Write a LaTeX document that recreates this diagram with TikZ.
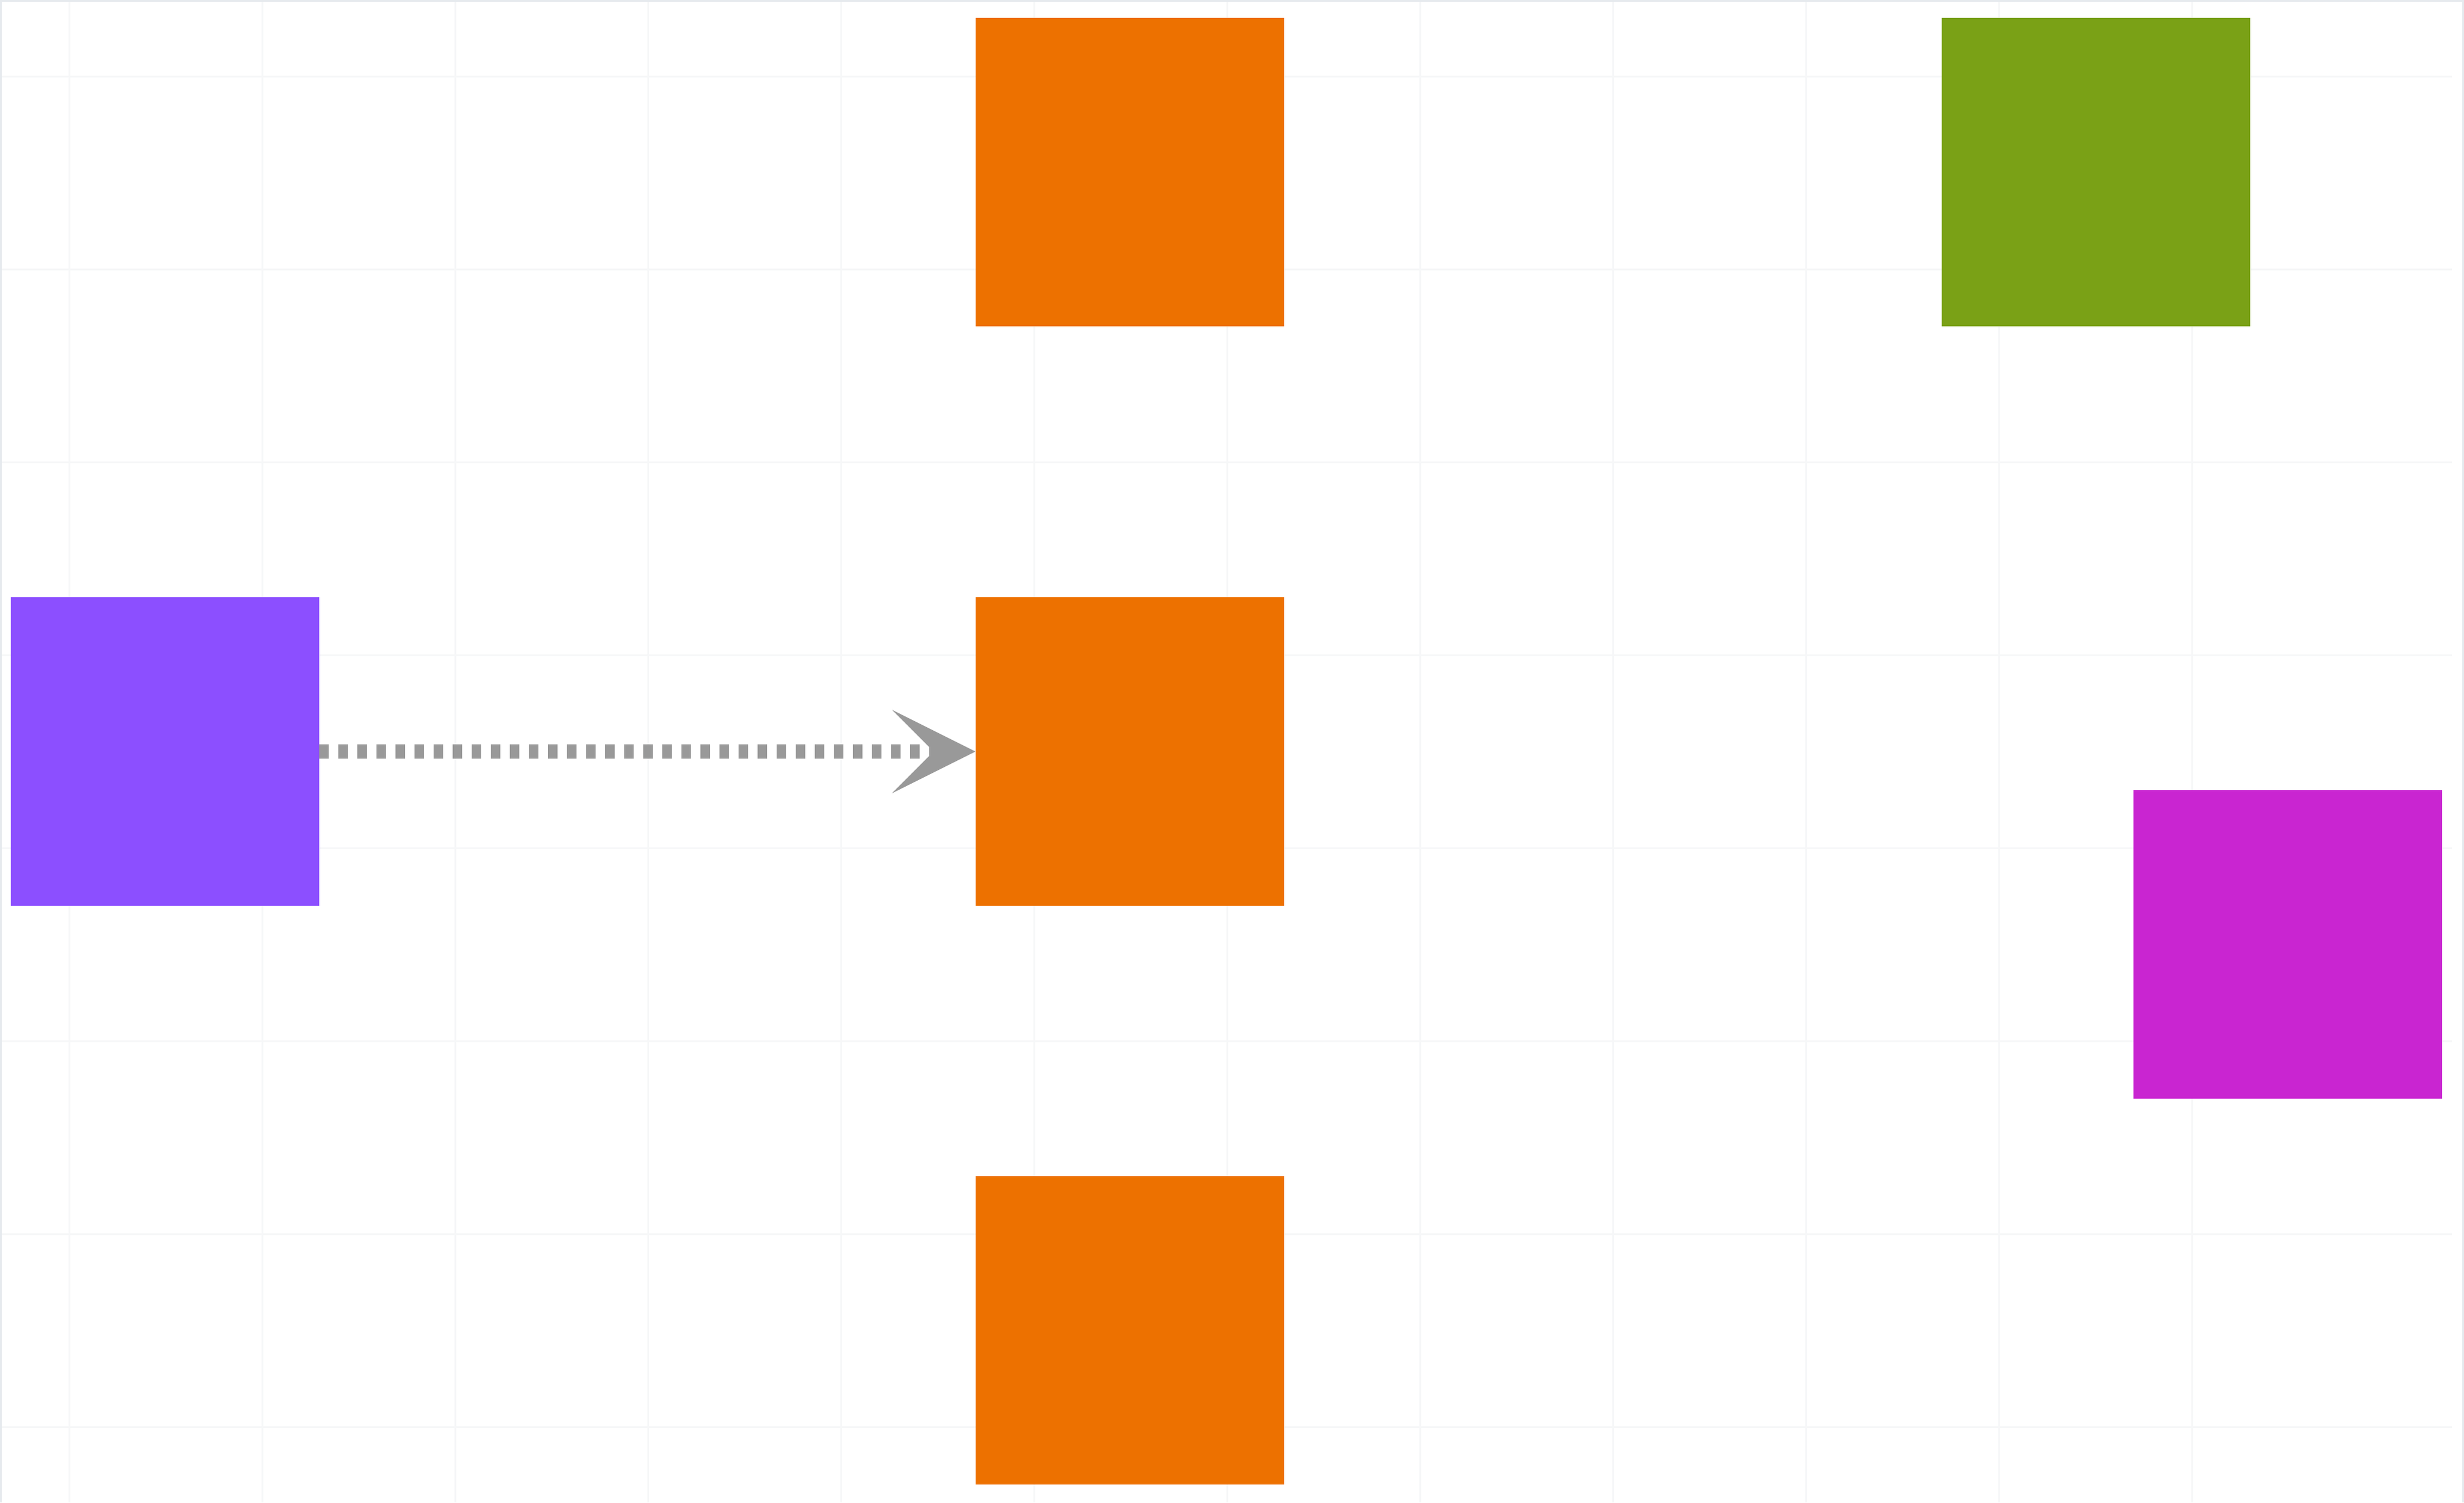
\documentclass[tikz,border=0pt]{standalone}
\usepackage{xcolor}
\usetikzlibrary{positioning}
\usetikzlibrary{arrows.meta}

\definecolor{svcpurple}{HTML}{8C4FFF}
\definecolor{svcorange}{HTML}{ED7100}
\definecolor{svcgreen}{HTML}{7AA116}
\definecolor{svcmagenta}{HTML}{C925D1}
\definecolor{flowgray}{HTML}{999999}
\definecolor{gridline}{HTML}{F6F7F8}
\definecolor{frameline}{HTML}{E6EAEE}

\tikzset{
    tile/.style={rectangle, minimum size=5.18cm, inner sep=0pt, draw=none},
    flow/.style={draw=flowgray, line width=0.24cm, dash pattern=on 0.16cm off 0.16cm,
        -{Stealth[length=1.4cm, width=1.4cm, inset=0.7cm, line width=0pt]}}
}

\begin{document}
\begin{tikzpicture}
    \useasboundingbox (0,0) rectangle (41.37,-25.23);
    % background grid and frame
    \foreach \i in {0,...,11}
        \draw[gridline, line width=0.03cm] (1.167+3.24*\i,0) -- (1.167+3.24*\i,-25.23);
    \foreach \j in {0,...,7}
        \draw[gridline, line width=0.03cm] (0,-1.285-3.24*\j) -- (41.17,-1.285-3.24*\j);
    \draw[frameline, line width=0.03cm] (0.015,-25.23) |- (41.35,-0.015) -- (41.35,-25.23);
    % set up the nodes
    \node[tile, fill=svcpurple] (src) at (2.765,-12.62) {};
    \node[tile, fill=svcorange, right=11.015cm of src] (O2) {};
    \node[tile, fill=svcorange, above=4.54cm of O2] (O1) {};
    \node[tile, fill=svcorange, below=4.53cm of O2] (O3) {};
    \node[tile, fill=svcgreen, right=11.02cm of O1] (G1) {};
    \node[tile, fill=svcmagenta] (M1) at (38.41,-15.86) {};
    % draw arrows between them
    \draw[flow] (src) -- (O2);
\end{tikzpicture}
\end{document}
